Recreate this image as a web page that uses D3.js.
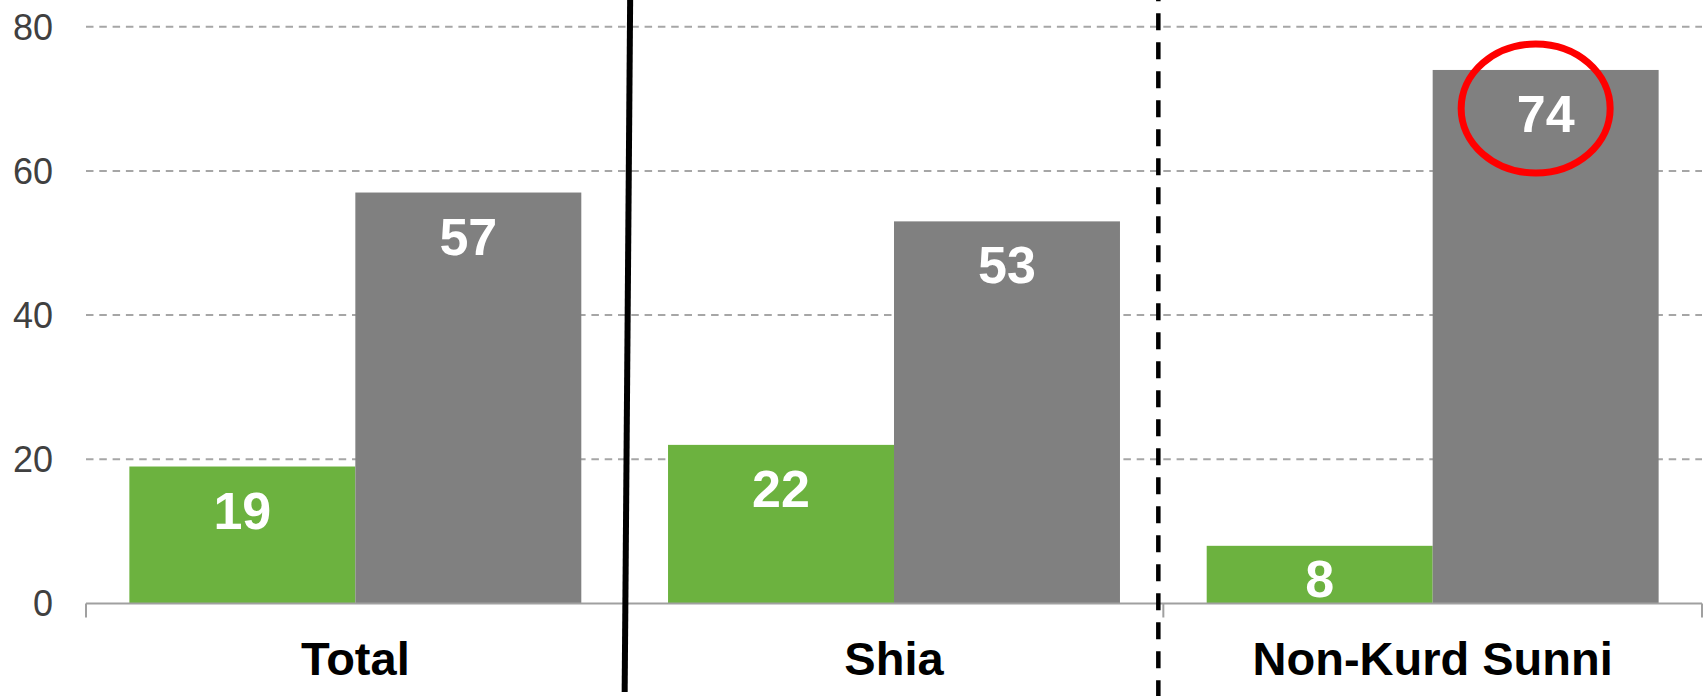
<!DOCTYPE html>
<html lang="en">
<head>
    <meta charset="UTF-8">
    <title>Chart</title>
    <script src="https://d3js.org/d3.v7.min.js"></script>
    <style>
        body { margin: 0; background: #fff; }
        svg { display: block; }
    </style>
</head>
<body>
<svg width="1704" height="696"></svg>

<script>
    const categories = ["Total", "Shia", "Non-Kurd Sunni"];
    const series = ["green", "gray"];
    const greenValues = [19, 22, 8];
    const grayValues = [57, 53, 74];
    const yTicks = [0, 20, 40, 60, 80];

    const data = categories.map((c, i) => ({
        category: c,
        values: [
            {key: "green", value: greenValues[i]},
            {key: "gray", value: grayValues[i]}
        ]
    }));

    const plot = {left: 86, right: 1702, top: 26.7, bottom: 603.5};

    const svg = d3.select("svg");

    const x0 = d3.scaleBand()
        .domain(categories)
        .range([plot.left, plot.right])
        .paddingInner(0.161)
        .paddingOuter(0.0805);

    const x1 = d3.scaleBand()
        .domain(series)
        .range([0, x0.bandwidth()]);

    const y = d3.scaleLinear()
        .domain([0, 80])
        .range([plot.bottom, plot.top]);

    const color = d3.scaleOrdinal()
        .domain(series)
        .range(["#6cb23f", "#808080"]);

    // gridlines
    svg.append("g")
        .selectAll("line")
        .data(yTicks.filter(d => d > 0))
        .enter()
        .append("line")
        .attr("x1", plot.left)
        .attr("x2", plot.right)
        .attr("y1", d => y(d))
        .attr("y2", d => y(d))
        .attr("stroke", "#a6a6a6")
        .attr("stroke-width", 2)
        .attr("stroke-dasharray", "7.5,5.8");

    // y tick labels
    svg.append("g")
        .selectAll("text")
        .data(yTicks)
        .enter()
        .append("text")
        .attr("x", 53)
        .attr("y", d => y(d))
        .attr("dy", "0.36em")
        .attr("text-anchor", "end")
        .style("font-family", "'Liberation Sans', Arial, sans-serif")
        .style("font-size", "36px")
        .style("fill", "#404040")
        .text(d => d);

    // bars
    const groups = svg.append("g")
        .selectAll("g")
        .data(data)
        .enter()
        .append("g")
        .attr("transform", d => `translate(${x0(d.category)},0)`);

    groups.selectAll("rect")
        .data(d => d.values)
        .enter()
        .append("rect")
        .attr("x", d => x1(d.key))
        .attr("y", d => y(d.value))
        .attr("width", x1.bandwidth())
        .attr("height", d => y(0) - y(d.value))
        .style("fill", d => color(d.key));

    groups.selectAll("text")
        .data(d => d.values)
        .enter()
        .append("text")
        .attr("x", d => x1(d.key) + x1.bandwidth() / 2)
        .attr("y", d => Math.min(y(d.value) + 62, y(0) - 7))
        .attr("text-anchor", "middle")
        .style("font-family", "'Liberation Sans', Arial, sans-serif")
        .style("font-weight", "bold")
        .style("font-size", "52px")
        .style("fill", "#fff")
        .text(d => d.value);

    // x axis line and category ticks
    const step = x0.step();
    const bounds = d3.range(categories.length + 1).map(i => plot.left + i * step);
    svg.append("line")
        .attr("x1", plot.left)
        .attr("x2", plot.right)
        .attr("y1", y(0))
        .attr("y2", y(0))
        .attr("stroke", "#a0a0a0")
        .attr("stroke-width", 2);
    svg.append("g")
        .selectAll("line")
        .data(bounds)
        .enter()
        .append("line")
        .attr("x1", d => d)
        .attr("x2", d => d)
        .attr("y1", y(0))
        .attr("y2", y(0) + 14)
        .attr("stroke", "#a0a0a0")
        .attr("stroke-width", 2);

    // category labels
    svg.append("g")
        .selectAll("text")
        .data(categories)
        .enter()
        .append("text")
        .attr("x", d => x0(d) + x0.bandwidth() / 2)
        .attr("y", 675)
        .attr("text-anchor", "middle")
        .style("font-family", "'Liberation Sans', Arial, sans-serif")
        .style("font-weight", "bold")
        .style("font-size", "47px")
        .style("fill", "#000")
        .text(d => d);

    // separators
    svg.append("line")
        .attr("x1", bounds[1] + 5.5)
        .attr("y1", -2)
        .attr("x2", bounds[1])
        .attr("y2", 692)
        .attr("stroke", "#000")
        .attr("stroke-width", 6);

    svg.append("line")
        .attr("x1", bounds[2] - 5)
        .attr("x2", bounds[2] - 5)
        .attr("y1", 0)
        .attr("y2", 696)
        .attr("stroke", "#000")
        .attr("stroke-width", 4.5)
        .attr("stroke-dasharray", "17,12")
        .attr("stroke-dashoffset", 15.7);

    // highlight ellipse around the largest value
    const hl = data[2].values[1];
    svg.append("ellipse")
        .attr("cx", x0(data[2].category) + x1(hl.key) + x1.bandwidth() / 2 - 10)
        .attr("cy", y(hl.value) + 38.5)
        .attr("rx", 74.5)
        .attr("ry", 64.5)
        .attr("fill", "none")
        .attr("stroke", "#ff0000")
        .attr("stroke-width", 7);
</script>
</body>
</html>
